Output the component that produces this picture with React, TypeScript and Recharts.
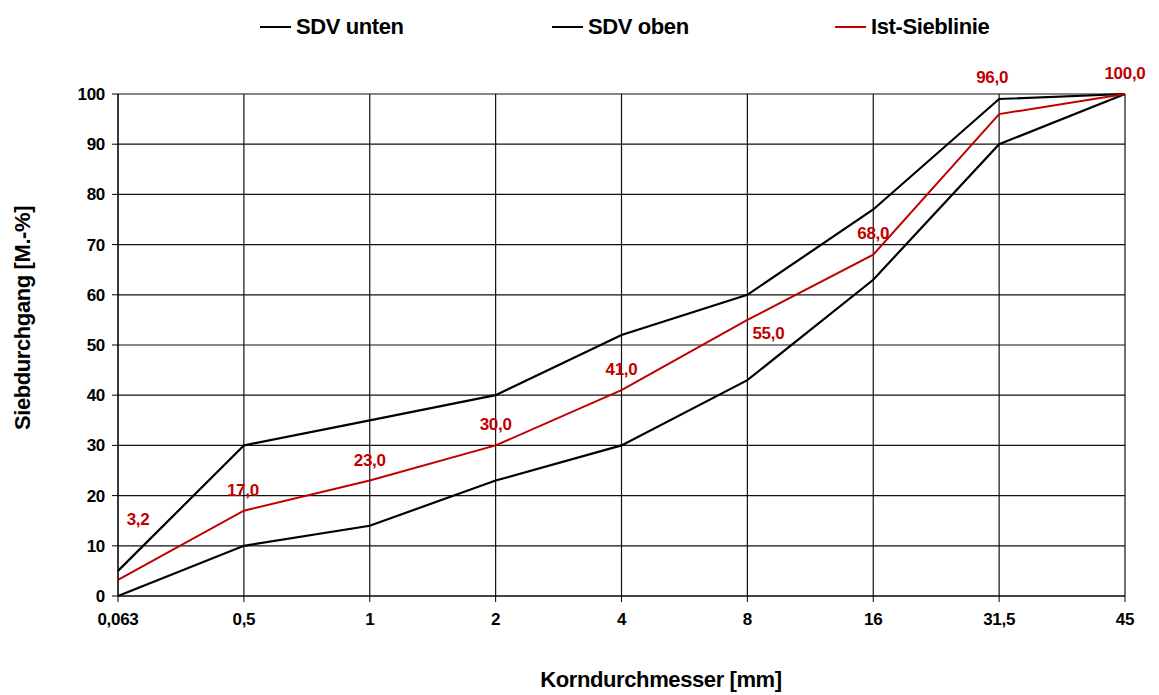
import React from 'react';
import { LineChart, Line, XAxis, YAxis, CartesianGrid } from 'recharts';

const sieves = ['0,063', '0,5', '1', '2', '4', '8', '16', '31,5', '45'];
const sdvUnten = [0, 10, 14, 23, 30, 43, 63, 90, 100];
const sdvOben = [5, 30, 35, 40, 52, 60, 77, 99, 100];
const istSieblinie = [3.2, 17, 23, 30, 41, 55, 68, 96, 100];
const yTicks = [0, 10, 20, 30, 40, 50, 60, 70, 80, 90, 100];

// manual label placement (dx, dy) per point, like the original sheet
const labelOffsets = [[20, -60], [-1, -20], [0, -20], [0, -21], [0, -21], [21, 14], [0, -21], [-7, -37], [0, -21]];

const data = sieves.map((s, i) => ({
  sieb: s,
  unten: sdvUnten[i],
  oben: sdvOben[i],
  ist: istSieblinie[i],
}));

const FONT = '"Liberation Sans", Arial, sans-serif';
const RED = '#C00000';

const renderIstLabel = (props: any) => {
  const { x, y, index, value } = props;
  const [dx, dy] = labelOffsets[index] || [0, -20];
  return (
    <text
      key={`lbl-${index}`}
      x={x + dx}
      y={y + dy}
      fill={RED}
      textAnchor="middle"
      dominantBaseline="central"
      fontSize={17}
      fontWeight="bold"
      fontFamily={FONT}
      letterSpacing={-0.3}
    >
      {Number(value).toFixed(1).replace('.', ',')}
    </text>
  );
};

const legendItems = [
  { name: 'SDV unten', color: '#000', left: 252 },
  { name: 'SDV oben', color: '#000', left: 544 },
  { name: 'Ist-Sieblinie', color: RED, left: 827 },
];

const tickStyle = { fill: '#000', fontSize: 17, fontWeight: 'bold', fontFamily: FONT, letterSpacing: -0.3 };

export default function App() {
  return (
    <div style={{ position: 'relative', width: 1151, height: 687 }}>
      <LineChart
        width={1151}
        height={687}
        data={data}
        margin={{ top: 86, right: 34, bottom: 0, left: 50 }}
      >
        <CartesianGrid stroke="#111" strokeWidth={1.2} />
        <XAxis
          dataKey="sieb"
          height={99}
          stroke="#000"
          tickSize={6}
          tickMargin={11}
          interval={0}
          tick={tickStyle}
        />
        <YAxis
          domain={[0, 100]}
          ticks={yTicks}
          interval={0}
          width={60}
          stroke="#000"
          tickSize={6}
          tickMargin={7}
          tick={tickStyle}
        />
        <Line
          type="linear"
          dataKey="unten"
          name="SDV unten"
          stroke="#000"
          strokeWidth={2.2}
          dot={false}
          isAnimationActive={false}
        />
        <Line
          type="linear"
          dataKey="oben"
          name="SDV oben"
          stroke="#000"
          strokeWidth={2.2}
          dot={false}
          isAnimationActive={false}
        />
        <Line
          type="linear"
          dataKey="ist"
          name="Ist-Sieblinie"
          stroke={RED}
          strokeWidth={2}
          dot={false}
          label={renderIstLabel}
          isAnimationActive={false}
        />
      </LineChart>
      {legendItems.map((it) => (
        <div
          key={it.name}
          style={{
            position: 'absolute',
            left: it.left,
            top: 19,
            transform: 'translateY(-50%)',
            display: 'flex',
            alignItems: 'center',
            whiteSpace: 'nowrap',
            fontFamily: FONT,
            fontWeight: 'bold',
            fontSize: 22,
            letterSpacing: -0.4,
            color: '#000',
          }}
        >
          <span style={{ display: 'inline-block', width: 31, height: 2, background: it.color, marginRight: 5 }} />
          {it.name}
        </div>
      ))}
      <div
        style={{
          position: 'absolute',
          left: 15,
          top: 310,
          transform: 'translate(-50%, -50%) rotate(-90deg)',
          whiteSpace: 'nowrap',
          fontFamily: FONT,
          fontWeight: 'bold',
          fontSize: 22,
          letterSpacing: -0.4,
        }}
      >
        Siebdurchgang [M.-%]
      </div>
      <div
        style={{
          position: 'absolute',
          left: 653,
          top: 672,
          transform: 'translate(-50%, -50%)',
          whiteSpace: 'nowrap',
          fontFamily: FONT,
          fontWeight: 'bold',
          fontSize: 22,
          letterSpacing: -0.4,
        }}
      >
        Korndurchmesser [mm]
      </div>
    </div>
  );
}
